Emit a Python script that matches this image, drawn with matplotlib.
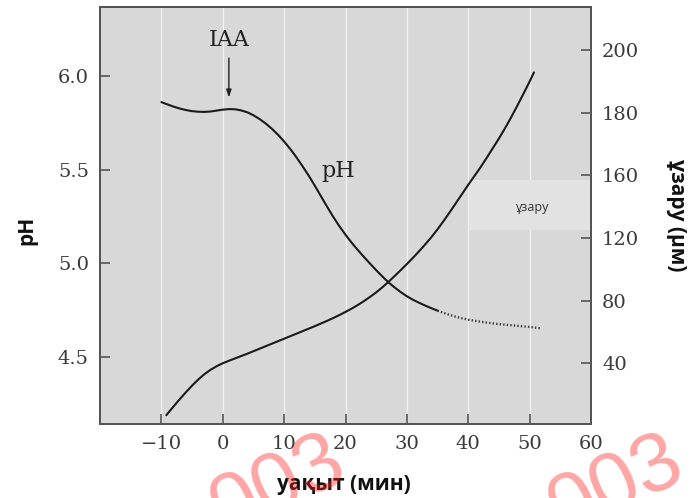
import numpy as np
import matplotlib
matplotlib.use("Agg")
import matplotlib.pyplot as plt
from matplotlib.patches import Rectangle

# time (min) and pH of the medium
ph_time = list(range(-10, 36))
ph_vals = [5.860, 5.848, 5.836, 5.826, 5.818, 5.812, 5.809, 5.808, 5.810, 5.815,
           5.820, 5.823, 5.822, 5.816, 5.806, 5.790, 5.770, 5.746, 5.718, 5.686,
           5.650, 5.610, 5.566, 5.518, 5.468, 5.414, 5.358, 5.302, 5.248, 5.198,
           5.152, 5.110, 5.071, 5.034, 4.998, 4.963, 4.930, 4.898, 4.871, 4.846,
           4.824, 4.805, 4.789, 4.774, 4.760, 4.747]
# extrapolated tail of the pH curve (dotted)
ph_tail_time = [35, 36, 37, 38, 39, 40, 42, 44, 46, 48, 50, 52]
ph_tail_vals = [4.747, 4.735, 4.724, 4.714, 4.706, 4.699, 4.688, 4.679, 4.672, 4.666,
                4.660, 4.652]

# time (min) and elongation (um)
growth_time = [-9.2] + list(range(-8, 51)) + [50.7]
growth_vals = [6.8, 12.5, 17.1, 21.5, 25.7, 29.6, 33.0, 35.8, 38.1, 40.0, 41.6,
               43.1, 44.6, 46.1, 47.7, 49.3, 50.9, 52.5, 54.1, 55.7, 57.3,
               58.9, 60.5, 62.1, 63.7, 65.4, 67.1, 68.9, 70.8, 72.8, 74.9,
               77.2, 79.7, 82.4, 85.3, 88.5, 92.0, 95.7, 99.5, 103.4, 107.4,
               111.6, 116.0, 120.6, 125.6, 131.0, 136.6, 142.4, 148.2, 154.0, 159.6,
               162.6, 165.6, 168.7, 171.8, 175.1, 178.6, 182.3, 186.1, 190.0, 192.9]

x_ticks = [-10, 0, 10, 20, 30, 40, 50, 60]
x_labels = ["\u221210", "0", "10", "20", "30", "40", "50", "60"]
ph_ticks = [4.5, 5.0, 5.5, 6.0]
ph_labels = ["4.5", "5.0", "5.5", "6.0"]
growth_ticks = [40, 80, 120, 160, 180, 200]

# right-hand scale: its tick values sit at equal steps along the axis
scale_vals = [-200, 40, 80, 120, 160, 180, 200, 400]
scale_pos = [-6, 0, 1, 2, 3, 4, 5, 15]


def fwd(v):
    return np.interp(v, scale_vals, scale_pos)


def inv(p):
    return np.interp(p, scale_pos, scale_vals)


serif = "DejaVu Serif"
tick_color = "#3a3a3a"
spine_color = "#555555"
line_color = "#1a1a1a"

fig = plt.figure(figsize=(6.93, 4.98), dpi=100)
ax = fig.add_axes([100 / 693, 74 / 498, 491 / 693, 417 / 498])
ax.set_facecolor("#d8d8d8")
ax.set_xlim(-20, 60)
ax.set_ylim(4.142, 6.368)

for x in x_ticks[:-1]:
    ax.axvline(x, color="#f0f0f0", lw=1.0, zorder=0.5)

ax.add_patch(Rectangle((40.1, 5.178), 19.8, 0.267, facecolor="#e2e2e2",
                       edgecolor="none", zorder=0.8))
ax.text(50.5, 5.30, "ұзару", fontsize=9, color="#333333", ha="center", va="center",
        family=["Open Sans", "DejaVu Sans"], zorder=0.9)

ax.plot(ph_time, ph_vals, color=line_color, lw=1.5, solid_capstyle="round",
        solid_joinstyle="round", zorder=3)
ax.plot(ph_tail_time, ph_tail_vals, color="#3a3a3a", lw=1.7, linestyle=(0, (0.6, 0.9)),
        zorder=3)

ax.set_xticks(x_ticks)
ax.set_xticklabels(x_labels)
ax.set_yticks(ph_ticks)
ax.set_yticklabels(ph_labels)
ax.tick_params(axis="both", direction="in", length=7, width=1.2, color=spine_color,
               labelcolor=tick_color, labelsize=14, pad=8)
ax.tick_params(axis="x", pad=8)
for lab in ax.get_xticklabels() + ax.get_yticklabels():
    lab.set_family(serif)
for sp in ax.spines.values():
    sp.set_color(spine_color)
    sp.set_linewidth(1.4)

ax.text(1, 6.19, "IAA", fontsize=16, family=serif, color="#222222", ha="center",
        va="center")
ax.annotate("", xy=(1, 5.87), xytext=(1, 6.11),
            arrowprops=dict(arrowstyle="-|>,head_length=0.45,head_width=0.15",
                            color="#222222", lw=1.0))
ax.text(18.8, 5.495, "pH", fontsize=16, family=serif, color="#222222", ha="center",
        va="center")

ax2 = ax.twinx()
ax2.set_yscale("function", functions=(fwd, inv))
ax2.set_ylim(1.2, 213.8)
ax2.plot(growth_time, growth_vals, color=line_color, lw=1.5, solid_capstyle="round",
         solid_joinstyle="round", zorder=3)
ax2.set_yticks(growth_ticks)
ax2.set_yticklabels([str(v) for v in growth_ticks])
ax2.yaxis.set_minor_locator(matplotlib.ticker.NullLocator())
ax2.tick_params(axis="y", direction="in", length=7, width=1.2, color=spine_color,
                labelcolor=tick_color, labelsize=14, pad=8)
for lab in ax2.get_yticklabels():
    lab.set_family(serif)
for sp in ax2.spines.values():
    sp.set_color(spine_color)
    sp.set_linewidth(1.4)

label_font = ["Open Sans", "DejaVu Sans"]
fig.text(344 / 693, 1 - 484 / 498, "уақыт (мин)", fontsize=15, fontweight="bold",
         family=label_font, ha="center", va="center", color="#111111")
fig.text(27 / 693, 1 - 230 / 498, "рН", fontsize=15, fontweight="bold", family=label_font,
         rotation=90, ha="center", va="center", color="#111111")
fig.text(677 / 693, 1 - 215 / 498, "ұзару (μм)", fontsize=15, fontweight="bold",
         family=label_font, rotation=270, ha="center", va="center", color="#111111")

# watermark
for cx, cy in [(278, 486), (616, 486)]:
    fig.text(cx / 693, 1 - cy / 498, "003", fontsize=60, family="Liberation Sans",
             color="#ff2020", alpha=0.40, rotation=25, ha="center", va="center", zorder=10)

fig.savefig("out.png", dpi=100)
